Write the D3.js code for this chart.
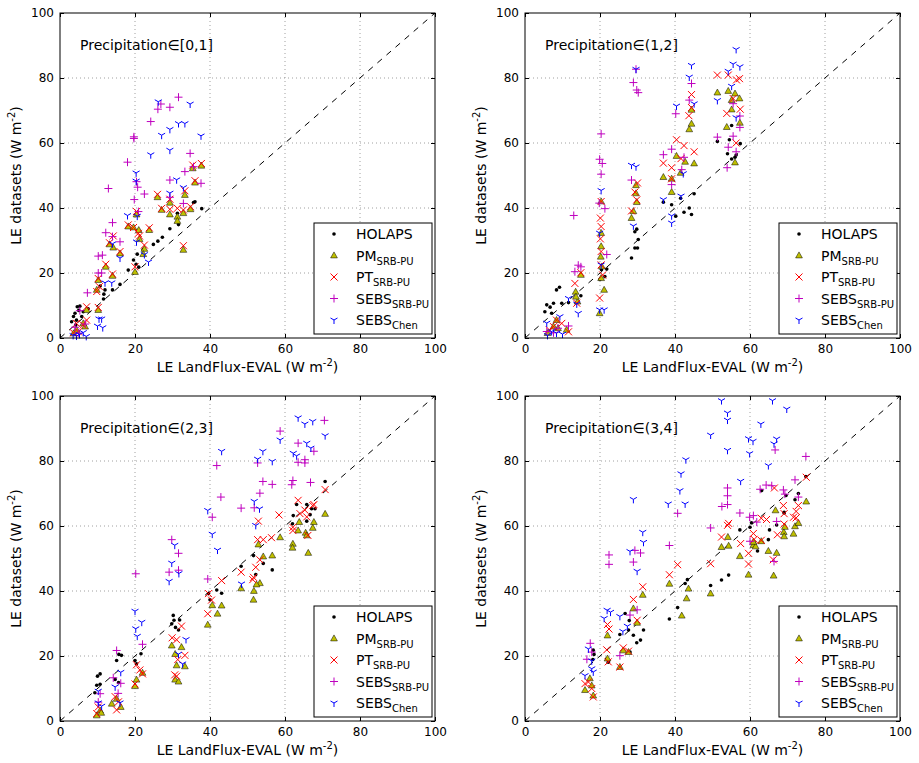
<!DOCTYPE html>
<html>
<head>
<meta charset="utf-8">
<script src="https://cdn.jsdelivr.net/npm/d3@7"></script>
<style>
  body { margin: 0; background: #fff; }
  svg text { font-family: 'DejaVu Sans', sans-serif; }
</style>
</head>
<body>
<svg id="chart" width="919" height="763"></svg>
<script>
// LE per dataset vs LandFlux-EVAL, split by precipitation class
var titles = ['[0,1]', '(1,2]', '(2,3]', '(3,4]']
var seriesNames = ['HOLAPS', 'PM', 'PT', 'SEBS', 'SEBS']
var seriesSubs = ['', 'SRB-PU', 'SRB-PU', 'SRB-PU', 'Chen']
var ticks = [0, 20, 40, 60, 80, 100]

var holaps1 = [[35.6,41.7],[36,41.9],[37.8,39.8],[31.3,38.4],[31.6,34.9],[29.3,33.6],[27.3,31],[26.1,29.8],[24.9,28.8],[22.2,27.3],[20.6,25.8],[19.6,24],[20.3,22.7],[21,21.8],[18.2,20.9],[16,16.5],[14,14.8],[12,14.8],[11.6,12],[10.7,16],[11.7,13.5],[4,7.6],[4.6,9.6],[5.3,9.8],[3.6,6.6],[6.2,8.1],[4.4,5.5],[3.1,5],[5.8,6.6],[7.5,9],[5,8.5],[4.2,4]]
var pm1 = [[37.7,53],[35.4,52.2],[36,47.8],[33.3,44],[29.3,41.6],[27.1,39.4],[29.3,38],[31.3,37.3],[31.3,36],[32.9,38.4],[34.8,39.6],[26,43.3],[23.8,33.2],[21.2,30.4],[21,33.2],[18.2,34.3],[19.6,34],[20.4,38],[22.5,27.4],[22.2,25.8],[20,20.3],[32.9,27.1],[13.2,28.8],[14.2,27.8],[16,26],[12.2,21.9],[14,19.1],[10.2,17.8],[9.8,14.8],[10.2,8.6],[7.1,8.6],[6.2,4.5],[4.4,2.5],[6.7,3.5],[3.6,1.4]]
var pt1 = [[37.7,53.7],[35.4,53.2],[36,48.4],[33.3,45.3],[29.3,42.7],[26,44.2],[27.1,39.9],[29.3,39.6],[31.3,39.9],[32.9,39.4],[34.8,40.4],[18.2,34.8],[19.6,34],[23.8,33.9],[20.9,32.2],[20.4,38.9],[21.2,31.4],[22.5,28.6],[32.9,28.4],[13.2,29.3],[14.2,31.4],[16,26.6],[12.2,22.7],[14,19.7],[10.2,18.3],[10.5,15.8],[9.8,14.3],[7.1,9.6],[10.2,9.4],[7.1,5.5],[4.4,4.5],[6.2,4],[4.9,1.9],[3.6,1.6],[20,21.9]]
var sebs1 = [[31.6,74.1],[26.9,72],[26.1,70.4],[29.3,71],[24.2,66.6],[19.7,61.9],[19.7,61.4],[18,54.1],[34.7,56.8],[35.6,52.7],[37.6,47.6],[33.3,51.2],[29.3,48.6],[20.4,48.1],[20.7,46.4],[19.8,42.6],[22.5,44.3],[29.3,43.3],[32.9,41.4],[12.9,46],[20.9,38.9],[14,35.5],[12.2,32.4],[14,31.2],[16,29.6],[10.2,25.2],[11.3,25.5],[10.2,20],[11.1,20],[7.3,13.9],[5.3,8.4],[6.7,4.3],[4,3.3],[5,1.5]]
var chen1 = [[26.2,72.7],[34.7,72],[31.6,66],[33.3,66],[29.3,64.2],[27.1,62.4],[37.6,62.2],[29.3,57.8],[24.2,56.4],[20.3,50.8],[20.3,48.3],[31.1,48.7],[29.3,44.6],[32.9,46.3],[18,37.7],[20.6,37.5],[20.4,29.6],[14,29],[16,24.6],[22.5,25.7],[23.6,23.4],[12,17],[13.8,17],[10.4,5.9],[11.1,5.9],[10,3.7],[11.4,3.2],[5.2,1.1],[4.4,0.6],[6.2,1.7],[3.5,0.8],[7,0.5]]

var holaps2 = [[9.2,15.6],[8.4,14.8],[5.8,10.2],[6.7,9.5],[7.6,10.7],[9.8,10.7],[5.3,8.1],[7.1,7.6],[11.6,10.9],[14.9,13],[20,18.1],[21.3,18.9],[20.4,21],[21.8,21.2],[28.4,24.6],[29.3,27.7],[30.2,30.3],[29.8,33.5],[29.3,32.7],[30,27.7],[36.9,41.8],[39.1,41],[40.2,37.5],[41.5,43],[42.4,38.7],[43.8,40],[44.4,38],[45.1,44.4],[51.3,60.5],[55.1,65.4],[54.5,61],[54,56.7],[56.3,56.3],[57.4,59.8],[55.1,55.1],[56,55.6]]
var pm2 = [[51.3,75.5],[54.2,76],[55.1,73.2],[56,75.2],[57.2,73.7],[55.1,70.3],[53.8,64.9],[57.3,66.2],[56,54],[43.8,64.2],[44.4,65.9],[44.4,70.2],[40.4,56],[42.7,54.2],[45.1,53.7],[41.5,50.8],[36.9,49.5],[39.1,44.9],[39.1,49],[29.6,44.5],[29.8,41.8],[28.4,36.9],[28.9,39],[29.6,47],[20.3,42],[20.3,32.3],[20.3,28.2],[20.5,22],[21.1,14.8],[20.3,18.4],[19.9,7.6],[20.2,25],[13.5,14.2],[14.9,19.4],[14,11.2],[13.6,12.7],[8.4,5.5],[8.8,3],[7.6,3.5],[11.1,2.5],[6,1.5]]
var pt2 = [[51.3,80.9],[54.2,80.9],[56.4,79.4],[57.2,79.8],[55.5,73.7],[53.8,69.1],[57.4,70.4],[56.3,60],[44.4,74.9],[43.7,68.4],[44.4,70.9],[40.4,61],[42.4,59.2],[36.9,53.8],[39.1,52.4],[45.1,57.3],[39.1,49],[41.6,55.2],[30,47.7],[29.3,44.9],[28.4,39.1],[29.8,42.5],[20.3,42],[20.1,36.9],[20.3,34.3],[20.3,26.6],[20.3,22.5],[20.7,19.4],[19.9,12.3],[20.1,30.5],[13.3,16.8],[14.9,20.1],[13.8,10.7],[8.4,5.5],[9.8,4.5],[11.6,1.9],[7.6,3.5],[6.5,2.5]]
var sebs2 = [[29.6,82.7],[28.9,78.6],[29.8,76.3],[30.2,75.5],[20.3,62.8],[19.9,55],[20.6,53.7],[20.3,50.4],[21.3,39.8],[19.8,41.5],[28.4,48.6],[13,37.7],[14.2,22.4],[13.3,20.4],[14.9,21.9],[21.8,25.7],[11.6,3.7],[8.8,3],[5.8,2],[7.6,1.6],[44.4,78.3],[43.8,73.2],[40.2,69],[36.9,56.4],[39.1,58.1],[42.4,55.6],[41.8,51.8],[39.1,47.2],[51.3,61.8],[55.5,72.1],[57.3,68.3],[57.3,64.8],[55.5,62.1],[54.2,58.7],[56.3,57.3],[53.9,52.4]]
var chen2 = [[29.6,82.7],[28.4,53.2],[29.6,52.7],[28.9,34.5],[20.3,45.4],[19.9,32.3],[20.3,22.5],[19.9,8.7],[21.1,8.7],[11.6,12.2],[13.8,10.5],[14.2,7.6],[9.3,6.6],[5.8,4.6],[7.1,2],[8.4,1.5],[10,1.2],[6,0.8],[56.3,88.8],[55.5,84.3],[57.3,83.5],[54.2,82.1],[51.3,73.1],[55.1,77.5],[56.3,67.8],[44.4,83.9],[43.8,80.3],[45.1,72.1],[40.4,71.4],[42.2,50.6],[36.9,42.6],[39.1,37.6],[39.1,35.4],[41.6,43.7]]

var holaps3 = [[10.7,14.5],[10,13.8],[10.7,11.3],[9.8,11],[9.3,8.7],[15.1,18.6],[15.7,20.5],[16.4,20.2],[14.7,12.8],[15.6,11.8],[20,18.6],[20.4,17.6],[21.6,20.7],[30.2,32.5],[30.4,31],[29.8,29.9],[30.8,28.8],[31.9,31.1],[31.6,28],[39.6,39.2],[40,37.3],[70.7,73.7],[63.1,66.6],[65.8,66.6],[67.1,65.3],[66.7,63.5],[65.8,61.5],[68,65.3],[62.2,63.2],[62,60.7],[51.6,50.9],[54.2,48.5],[52.2,45.1],[56.6,46.5],[48.3,47.6],[43.1,39.3],[41.8,40.3]]
var pm3 = [[70.7,63.7],[67.7,61.2],[67.4,59.4],[65.5,57.9],[65.8,57.1],[63.5,58.6],[63.8,61.2],[66.2,51.7],[62.1,54.5],[62,53.3],[58.7,56.5],[56.6,50.9],[54.2,50.6],[52.9,54.3],[53.3,42.4],[52.4,42],[51.7,40],[51.6,37.3],[48.3,40.8],[43.1,35.5],[39.4,29.6],[40.6,35.6],[42,33],[29.8,23.2],[30.7,20.6],[32.4,22.7],[33.3,16.8],[31.1,17.1],[30.7,12.7],[31.6,12.1],[20.4,12.7],[20,10.7],[22,14.8],[15.1,6.8],[13.8,5.3],[16.2,4.3],[10.7,3.2],[9.8,1.7],[11,2.5]]
var pt3 = [[70.7,71.2],[63.5,67.9],[67.4,66.3],[67.7,66.6],[65.3,64.9],[64,63.8],[65.8,62.8],[58.4,63.4],[62.1,59.6],[62.1,58.6],[66.1,57.1],[52.9,61.5],[52.7,55.8],[54.2,55.8],[56.4,56.4],[53.3,49.6],[52.2,47.3],[51.6,44.2],[51.4,43.5],[48.3,45.8],[43.1,43.2],[39.6,39.2],[40.4,37.2],[39.4,33],[29.9,25.6],[31.1,25],[32.4,29.2],[33.3,20.2],[31.4,18.9],[31.1,13.8],[30.6,14.2],[20.4,17.3],[21.3,15.7],[20,11.4],[22,14.5],[14.7,7.5],[15.6,5.9],[15.1,3.4],[10.2,4.3],[9.8,2.3]]
var sebs3 = [[70.5,92.5],[58.7,89.2],[63.5,85.5],[65.3,80.4],[65.3,79.4],[63.5,79.6],[67.7,83],[62.1,74],[61.8,72.7],[66.8,73.4],[54.1,73.7],[56.6,72.8],[53.3,70.1],[52.7,79.4],[48.3,65.5],[51.8,65.6],[42.9,68.9],[41.8,78.6],[40.6,62.7],[39.4,43.7],[29.8,55.8],[29.1,45.8],[31.6,51.6],[31.6,46.4],[20.2,45.3],[22,23.6],[15.1,21.7],[14.2,13.3],[16.2,11.6],[10.7,8.4],[10.2,5.8],[15.5,8.5]]
var chen3 = [[63.5,93.3],[65.3,91.4],[67.4,92.2],[70.7,87.8],[43.1,83],[58.7,86.5],[54.1,83],[52.7,80.6],[56.6,79.9],[65.8,85.5],[66.9,84],[62.2,82.4],[63.1,81.6],[51.8,67.6],[53.2,65.3],[52.2,60.2],[48.4,42.2],[39.4,64.8],[40.6,57.5],[42,52.6],[20,33.8],[21.8,30.4],[20.2,28.4],[20.6,26.1],[30.6,54.1],[29.8,48.6],[29.1,43],[31.7,45.4],[33.6,25.1],[31.6,20.6],[32.7,17.6],[16.2,15],[14.7,10.5],[16,5.6],[10.2,9.2],[10.2,5.6],[11.1,4.6]]

var holaps4 = [[18.1,18.9],[18.2,21.8],[18.4,20.5],[22.2,18.1],[21.8,19.1],[25.3,26.6],[26.7,33.1],[27.8,30.9],[27.6,28],[28.9,26.4],[31.6,28],[30.8,24.9],[29.8,24.1],[28,21.2],[38.5,31.4],[40.7,34.9],[49.5,41.7],[52.4,43.4],[54.3,44.9],[57.3,58.8],[60.4,61],[60,59.6],[62,52.3],[63.1,70.9],[65.2,58.8],[64.9,55.8],[67.1,60.3],[69.6,69.4],[69.1,64],[72,68.1],[72.9,70],[61.1,54.9],[42.7,42.3],[43.3,43.5],[74.9,75.2],[69.1,64.2]]
var pm4 = [[16,9.5],[17.8,10.9],[18.2,7.8],[17.3,13.1],[22,26.3],[22,19.2],[25.3,16.6],[26.2,21.7],[27.6,21.2],[28.9,34.6],[29.9,30.2],[31.4,38.8],[38.5,42.2],[41.8,32.4],[43.1,37.7],[43.6,40.7],[49.5,39.2],[52.4,53.5],[54.3,53.9],[54.1,56.6],[57.3,50.7],[59.6,45],[60.9,54.1],[61.5,53.7],[63,55.3],[64.9,52.3],[66.3,44.7],[67.1,51.7],[66.8,64.8],[69,58.1],[71.6,57.6],[72,59.9],[72.9,60.9],[75,67.5],[69.3,59.7],[60.9,55.1],[69.1,56.8]]
var pt4 = [[16,11.5],[16.9,12],[17.8,10],[18.2,7.4],[21.8,21.9],[22.2,18.2],[22.4,28.3],[22,29.7],[25.3,16.6],[26.2,22.5],[27.6,21.5],[29.9,31],[28.9,37.4],[31.4,41.3],[38.5,45],[40.7,48.1],[49.5,48.4],[52.4,56.6],[54,60.2],[54.3,60.8],[57.5,54.6],[59.6,51.6],[59.6,48.3],[60.9,57.7],[61.1,55.9],[63,62.4],[64.4,62],[66.5,71.7],[68.9,66.3],[69.1,60.6],[67.3,57.3],[71.6,62.7],[72.3,62.5],[72.9,66.3],[63,55.6],[75,75],[66.2,49.6],[69.1,63.8],[72.3,64.5]]
var sebs4 = [[22.4,51.1],[22.4,48.2],[17.4,23.9],[17.8,21.2],[28.9,48.9],[30.8,51.7],[29.3,52.5],[29.9,34.2],[28,32.6],[25.3,20.1],[38.5,54],[40.7,63.9],[54,71.7],[54,69.3],[54,66.6],[52.5,66],[57.3,64],[49.5,59.4],[59.9,62.7],[60.9,63.2],[62.7,71.3],[64.3,72.6],[65.8,72.4],[68.9,71.1],[69.3,69.8],[72,74.2],[72.9,68.9],[74.9,81.4],[66.7,83.4],[60,55.3],[61.8,61.2],[66.4,49.1],[67.1,61.4],[16.5,19]]
var chen4 = [[28.9,68.2],[38.2,66.8],[31.4,58.1],[31.6,55],[28,52.2],[29.9,46.1],[21.9,34.1],[21.1,31.6],[25.3,32.2],[27.3,29.2],[26.1,27.6],[16.9,22.2],[17.8,18.5],[16,14],[17.8,16.1],[18.2,15.1],[41.6,76.1],[41.3,70.9],[52.4,98.6],[54,94.8],[54,92.6],[49.5,88],[54,83.3],[59.6,86.9],[60.8,86.1],[59.9,82.3],[62.9,91.4],[66,98.6],[69.8,96],[67.1,86.8],[66.4,85.3],[64.9,78.6],[57.5,73.8],[42.9,80.4],[42.7,66.8],[22.8,33.5]]

;(function (d3) {
  var svg = d3.select('#chart')

  var panels = [
    {x: 60, y: 13, title: titles[0], sets: [holaps1, pm1, pt1, sebs1, chen1]},
    {x: 525, y: 13, title: titles[1], sets: [holaps2, pm2, pt2, sebs2, chen2]},
    {x: 60, y: 396, title: titles[2], sets: [holaps3, pm3, pt3, sebs3, chen3]},
    {x: 525, y: 396, title: titles[3], sets: [holaps4, pm4, pt4, sebs4, chen4]}
  ]
  var pw = 375
  var ph = 325

  // marker paths, matplotlib-ish
  var shapes = [
    null,
    'M0,-3.6L3.4,2.4L-3.4,2.4Z',
    'M-3.5,-3.5L3.5,3.5M-3.5,3.5L3.5,-3.5',
    'M-4,0L4,0M0,-4L0,4',
    'M0,0L0,4M0,0L-3.5,-2M0,0L3.5,-2'
  ]
  var styles = [
    {fill: '#000', stroke: 'none'},
    {fill: '#bfbf00', stroke: '#000', sw: 0.5},
    {fill: 'none', stroke: '#ff0000', sw: 1},
    {fill: 'none', stroke: '#bf00bf', sw: 1},
    {fill: 'none', stroke: '#0000ff', sw: 1}
  ]

  function drawMarker (g, k, cx, cy) {
    if (k === 0) {
      g.append('circle').attr('cx', cx).attr('cy', cy).attr('r', 1.8).attr('fill', '#000')
      return
    }
    g.append('path')
      .attr('d', shapes[k])
      .attr('transform', `translate(${cx},${cy})`)
      .attr('fill', styles[k].fill)
      .attr('stroke', styles[k].stroke)
      .attr('stroke-width', styles[k].sw)
  }

  function unitLabel (t, prefix) {
    t.append('tspan').text(prefix + ' (W m')
    t.append('tspan').attr('font-size', 10).attr('dy', -6).text('-2')
    t.append('tspan').attr('dy', 6).text(')')
  }

  panels.forEach(function (p) {
    var x = d3.scaleLinear().domain([0, 100]).range([p.x, p.x + pw])
    var y = d3.scaleLinear().domain([0, 100]).range([p.y + ph, p.y])
    var g = svg.append('g')

    // dotted grid
    ticks.slice(1, 5).forEach(function (t) {
      g.append('line').attr('x1', x(t)).attr('x2', x(t)).attr('y1', p.y).attr('y2', p.y + ph)
        .attr('stroke', '#888').attr('stroke-dasharray', '1,3').attr('stroke-width', 0.8)
      g.append('line').attr('y1', y(t)).attr('y2', y(t)).attr('x1', p.x).attr('x2', p.x + pw)
        .attr('stroke', '#888').attr('stroke-dasharray', '1,3').attr('stroke-width', 0.8)
    })

    // 1:1 line
    g.append('line').attr('x1', x(0)).attr('y1', y(0)).attr('x2', x(100)).attr('y2', y(100))
      .attr('stroke', '#000').attr('stroke-dasharray', '6,6').attr('stroke-width', 1)

    // points
    var pts = g.append('g')
    p.sets.forEach(function (set, k) {
      set.forEach(function (d) { drawMarker(pts, k, x(d[0]), y(d[1])) })
    })

    // axes with inward ticks on all sides
    var ax = [
      d3.axisBottom(x).tickValues(ticks).tickSizeInner(-4).tickSizeOuter(0).tickPadding(6),
      d3.axisLeft(y).tickValues(ticks).tickSizeInner(-4).tickSizeOuter(0).tickPadding(6),
      d3.axisTop(x).tickValues(ticks).tickSizeInner(-4).tickSizeOuter(0).tickFormat(''),
      d3.axisRight(y).tickValues(ticks).tickSizeInner(-4).tickSizeOuter(0).tickFormat('')
    ]
    var pos = [`translate(0,${p.y + ph})`, `translate(${p.x},0)`, `translate(0,${p.y})`, `translate(${p.x + pw},0)`]
    ax.forEach(function (a, i) {
      var ag = g.append('g').attr('transform', pos[i]).call(a)
      ag.select('.domain').remove()
      ag.selectAll('text').attr('font-size', 12).attr('font-family', 'DejaVu Sans').attr('fill', '#000')
    })
    g.append('rect').attr('x', p.x).attr('y', p.y).attr('width', pw).attr('height', ph)
      .attr('fill', 'none').attr('stroke', '#000').attr('stroke-width', 1)

    // precipitation text
    g.append('text').attr('x', p.x + 20).attr('y', p.y + 37).attr('font-size', 14)
      .text('Precipitation\u2208' + p.title)

    // axis labels
    unitLabel(g.append('text').attr('x', p.x + pw / 2).attr('y', p.y + ph + 34)
      .attr('text-anchor', 'middle').attr('font-size', 14), 'LE LandFlux-EVAL')
    unitLabel(g.append('text').attr('transform', `translate(${p.x - 39},${p.y + ph / 2}) rotate(-90)`)
      .attr('text-anchor', 'middle').attr('font-size', 14), 'LE  datasets')

    // legend
    var lx = p.x + pw - 121
    var ly = p.y + ph - 115
    var lg = g.append('g')
    lg.append('rect').attr('x', lx).attr('y', ly).attr('width', 118).attr('height', 111)
      .attr('fill', '#fff').attr('stroke', '#000').attr('stroke-width', 1)
    seriesNames.forEach(function (name, k) {
      var cy = ly + 11 + k * 21.5
      drawMarker(lg, k, lx + 20, cy)
      var t = lg.append('text').attr('x', lx + 42).attr('y', cy + 5).attr('font-size', 14)
      t.append('tspan').text(name)
      if (seriesSubs[k]) {
        t.append('tspan').attr('font-size', 10).attr('dy', 4).text(seriesSubs[k])
      }
    })
  })
})(window.d3)
</script>
</body>
</html>
